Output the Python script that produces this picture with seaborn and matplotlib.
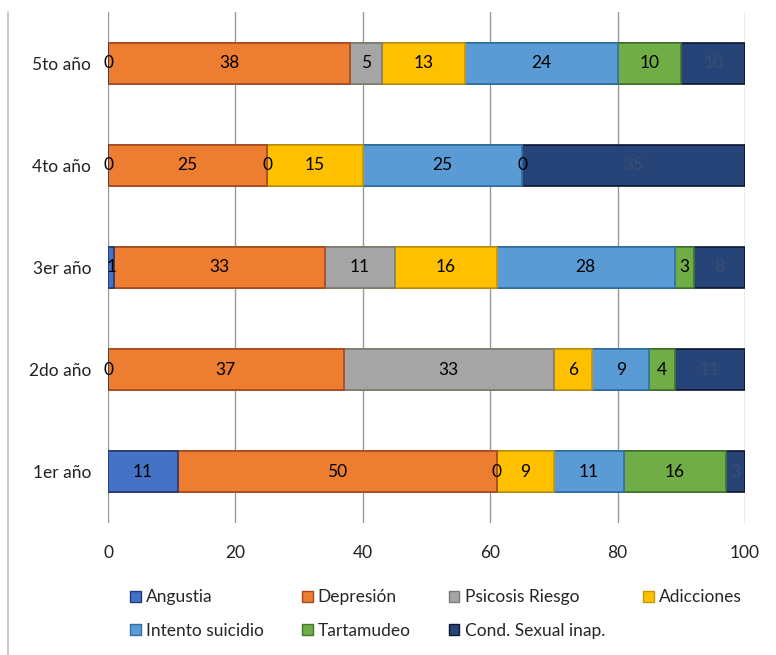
import matplotlib
matplotlib.use("Agg")
import matplotlib.pyplot as plt
import seaborn as sns
import numpy as np
import pandas as pd
from matplotlib.patches import Patch
from matplotlib.lines import Line2D

categories = ["5to año", "4to año", "3er año", "2do año", "1er año"]
series_names = ["Angustia", "Depresión", "Psicosis Riesgo", "Adicciones",
                "Intento suicidio", "Tartamudeo", "Cond. Sexual inap."]
angustia = [0, 0, 1, 0, 11]
depresion = [38, 25, 33, 37, 50]
psicosis = [5, 0, 11, 33, 0]
adicciones = [13, 15, 16, 6, 9]
intento = [24, 25, 28, 9, 11]
tartamudeo = [10, 0, 3, 4, 16]
cond_sexual = [10, 35, 8, 11, 3]
x_ticks = [0, 20, 40, 60, 80, 100]

colors = ["#4472C4", "#ED7D31", "#A5A5A5", "#FFC000", "#5B9BD5", "#70AD47", "#264478"]
edges = ["#1F3A75", "#A8471A", "#7A7A7A", "#C99400", "#2E6FA8", "#44762A", "#0B1630"]
label_colors = ["black"] * 6 + ["#3C4E70"]

values = [angustia, depresion, psicosis, adicciones, intento, tartamudeo, cond_sexual]

sns.set_theme(style="white")
plt.rcParams["font.family"] = ["Lato", "DejaVu Sans"]

fig = plt.figure(figsize=(7.76, 6.55), dpi=100)
ax = fig.add_axes([108 / 776, 1 - 523 / 655, (745 - 108) / 776, (523 - 12) / 655])

vals = np.array(values, dtype=float)
cum = np.cumsum(vals, axis=0)
lefts = cum - vals

# draw cumulative bars from the last (longest) series to the first
for i in range(len(series_names) - 1, -1, -1):
    df = pd.DataFrame({"cat": categories, "val": cum[i]})
    sns.barplot(data=df, x="val", y="cat", order=categories, orient="h",
                color=colors[i], width=0.4, saturation=1,
                edgecolor=edges[i], linewidth=1.2, ax=ax)

# data labels
for i in range(len(series_names)):
    for j, cat in enumerate(categories):
        v = vals[i, j]
        ax.text(lefts[i, j] + v / 2, j, f"{int(v)}", ha="center", va="center",
                fontsize=12.5, color=label_colors[i])

ax.set_xlim(0, 100)
ax.set_ylim(len(categories) - 0.5, -0.5)
ax.set_xticks(x_ticks)
ax.set_xticklabels([str(t) for t in x_ticks], fontsize=12.5)
ax.tick_params(axis="both", length=0, labelsize=12.5, colors="#222222")
ax.tick_params(axis="x", pad=16)
ax.tick_params(axis="y", pad=12)
ax.set_xlabel("")
ax.set_ylabel("")
ax.xaxis.grid(True, color="#999999", linewidth=1)
ax.yaxis.grid(False)
ax.set_axisbelow(True)
for s in ax.spines.values():
    s.set_visible(False)

# outer left border line
fig.add_artist(Line2D([8 / 776, 8 / 776], [0, 1 - 12 / 655], color="#BFBFBF", linewidth=1.2))

handles = [Patch(facecolor=colors[k], edgecolor=edges[k], linewidth=1) for k in range(7)]
order = [0, 4, 1, 5, 2, 6, 3]
fig.legend([handles[k] for k in order], [series_names[k] for k in order],
           ncol=4, loc="center", bbox_to_anchor=(436 / 776, 1 - 614 / 655),
           frameon=False, fontsize=12.5, handlelength=0.6, handleheight=0.6,
           handletextpad=0.3, columnspacing=2.2, labelspacing=1.0)

fig.savefig("out.png", dpi=100)
